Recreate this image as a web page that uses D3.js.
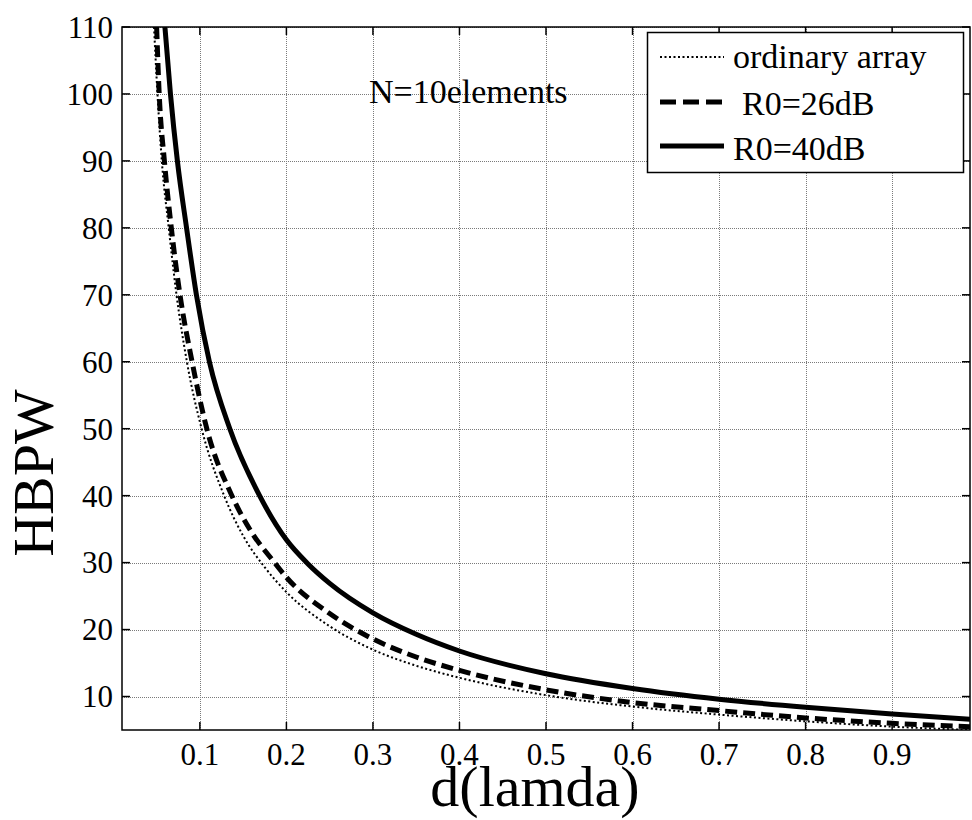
<!DOCTYPE html>
<html>
<head>
<meta charset="utf-8">
<script src="https://cdn.jsdelivr.net/npm/d3@7"></script>
<style>
    body { margin: 0; background: #fff; }
    svg { display: block; }
</style>
</head>
<body>
<svg id="container"></svg>
<script>
// Axis ticks
var xTicks = [0.1, 0.2, 0.3, 0.4, 0.5, 0.6, 0.7, 0.8, 0.9];
var yTicks = [10, 20, 30, 40, 50, 60, 70, 80, 90, 100, 110];

// Half power beam width, [d(lamda), HBPW]
var ordinaryArray = [
    [0.047, 110], [0.051, 100], [0.056, 90], [0.064, 80], [0.073, 70], [0.085, 60],
    [0.102, 50], [0.128, 40], [0.15, 34], [0.175, 29.3], [0.2, 25.6], [0.25, 20.5],
    [0.3, 17.0], [0.35, 14.6], [0.4, 12.8], [0.5, 10.2], [0.6, 8.5], [0.7, 7.3],
    [0.8, 6.3], [0.9, 5.5], [0.99, 5.0]
];
var r0_26dB = [
    [0.05, 110], [0.053, 100], [0.059, 90], [0.067, 80], [0.077, 70], [0.091, 60],
    [0.108, 50], [0.137, 40], [0.16, 34.5], [0.185, 30.2], [0.2, 27.8], [0.25, 22.4],
    [0.3, 18.6], [0.35, 15.9], [0.4, 13.9], [0.5, 11.0], [0.6, 9.1], [0.7, 7.9],
    [0.8, 6.8], [0.9, 6.0], [0.99, 5.5]
];
var r0_40dB = [
    [0.0596, 110], [0.066, 100], [0.074, 90], [0.0846, 80], [0.096, 70], [0.111, 60],
    [0.1346, 50], [0.169, 40], [0.2, 33.4], [0.225, 29.8], [0.25, 26.9], [0.3, 22.5],
    [0.35, 19.3], [0.4, 16.8], [0.5, 13.4], [0.6, 11.2], [0.7, 9.6], [0.8, 8.4],
    [0.9, 7.4], [0.99, 6.6]
];

var seriesNames = ["ordinary array", "R0=26dB", "R0=40dB"];
var seriesData = [ordinaryArray, r0_26dB, r0_40dB];

function initializeChart()
{
    const width = 972, height = 820;
    const left = 122, right = 970, top = 27, bottom = 730;
    const font = "'Liberation Serif', 'Times New Roman', serif";

    const svg = d3.select('#container').attr("width", width).attr("height", height);

    const x = d3.scaleLinear().domain([0.01, 0.99]).range([left, right]);
    const y = d3.scaleLinear().domain([5, 110]).range([bottom, top]);

    // Dotted grid
    const grid = svg.append("g").attr("stroke", "#7a7a7a").attr("stroke-width", 1)
        .attr("stroke-dasharray", "1,1");
    grid.selectAll("line.gx").data(xTicks).join("line").attr("class", "gx")
        .attr("x1", d => Math.round(x(d)) + 0.5).attr("x2", d => Math.round(x(d)) + 0.5)
        .attr("y1", top).attr("y2", bottom);
    grid.selectAll("line.gy").data(yTicks).join("line").attr("class", "gy")
        .attr("x1", left).attr("x2", right)
        .attr("y1", d => Math.round(y(d)) + 0.5).attr("y2", d => Math.round(y(d)) + 0.5);

    // Curves, clipped to the axes box
    svg.append("clipPath").attr("id", "plotClip").append("rect")
        .attr("x", left).attr("y", top).attr("width", right - left).attr("height", bottom - top);

    const line = d3.line().x(d => x(d[0])).y(d => y(d[1])).curve(d3.curveMonotoneX);
    const styles = [
        { width: 2, dash: "2,2.5" },
        { width: 5, dash: "12,6" },
        { width: 5, dash: null }
    ];
    const curves = svg.append("g").attr("clip-path", "url(#plotClip)").attr("fill", "none")
        .attr("stroke", "#000");
    curves.selectAll("path").data(seriesData).join("path")
        .attr("d", line)
        .attr("stroke-width", (d, i) => styles[i].width)
        .attr("stroke-dasharray", (d, i) => styles[i].dash);

    // Axes box with inward ticks on every side
    const frame = svg.append("g").attr("stroke", "#000").attr("stroke-width", 1.5);
    frame.append("rect").attr("x", left).attr("y", top).attr("width", right - left)
        .attr("height", bottom - top).attr("fill", "none");
    const tickLen = 8;
    frame.selectAll("line.tb").data(xTicks).join("line").attr("class", "tb")
        .attr("x1", d => x(d)).attr("x2", d => x(d)).attr("y1", bottom).attr("y2", bottom - tickLen);
    frame.selectAll("line.tt").data(xTicks).join("line").attr("class", "tt")
        .attr("x1", d => x(d)).attr("x2", d => x(d)).attr("y1", top).attr("y2", top + tickLen);
    frame.selectAll("line.tl").data(yTicks).join("line").attr("class", "tl")
        .attr("x1", left).attr("x2", left + tickLen).attr("y1", d => y(d)).attr("y2", d => y(d));
    frame.selectAll("line.tr").data(yTicks).join("line").attr("class", "tr")
        .attr("x1", right).attr("x2", right - tickLen).attr("y1", d => y(d)).attr("y2", d => y(d));

    // Tick labels
    svg.append("g").attr("font-family", font).attr("font-size", 31).attr("text-anchor", "middle")
        .selectAll("text").data(xTicks).join("text")
        .attr("x", d => x(d)).attr("y", 765).text(d => d3.format(".1f")(d));
    svg.append("g").attr("font-family", font).attr("font-size", 31).attr("text-anchor", "end")
        .selectAll("text").data(yTicks).join("text")
        .attr("x", left - 9).attr("y", d => y(d)).attr("dy", "0.35em").text(d => d);

    // Axis titles
    svg.append("text").attr("font-family", font).attr("font-size", 58).attr("text-anchor", "middle")
        .attr("x", 535).attr("y", 806).text("d(lamda)");
    svg.append("text").attr("font-family", font).attr("font-size", 58).attr("text-anchor", "middle")
        .attr("transform", "translate(53,473) rotate(-90)")
        .text("HBPW");

    // Annotation
    svg.append("text").attr("font-family", font).attr("font-size", 34)
        .attr("x", 369).attr("y", 103).text("N=10elements");

    // Legend
    const legend = svg.append("g");
    legend.append("rect").attr("x", 647.5).attr("y", 32.5).attr("width", 316).attr("height", 140)
        .attr("fill", "#fff").attr("stroke", "#000").attr("stroke-width", 1.5);
    const legendRows = [
        { lineY: 57, textY: 68, textX: 733 },
        { lineY: 102, textY: 115, textX: 742 },
        { lineY: 146, textY: 160, textX: 733 }
    ];
    legend.selectAll("line").data(seriesNames).join("line")
        .attr("x1", 660).attr("x2", 724)
        .attr("y1", (d, i) => legendRows[i].lineY).attr("y2", (d, i) => legendRows[i].lineY)
        .attr("stroke", "#000")
        .attr("stroke-width", (d, i) => styles[i].width)
        .attr("stroke-dasharray", (d, i) => i == 1 ? "16,7" : styles[i].dash);
    legend.selectAll("text").data(seriesNames).join("text")
        .attr("font-family", font).attr("font-size", 34)
        .attr("x", (d, i) => legendRows[i].textX).attr("y", (d, i) => legendRows[i].textY)
        .text(d => d);
}

initializeChart();
</script>
</body>
</html>
